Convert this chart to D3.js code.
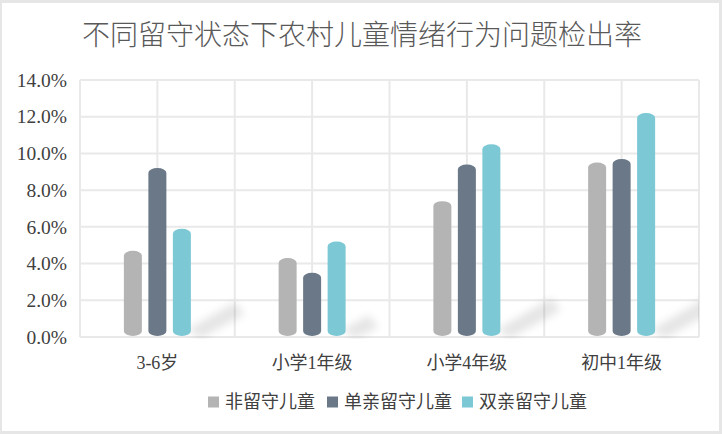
<!DOCTYPE html>
<html>
<head>
<meta charset="utf-8">
<script src="https://cdn.jsdelivr.net/npm/d3@7"></script>
<style>
  body { margin: 0; background: #e6e6e6; }
  svg { display: block; }
</style>
</head>
<body>
<script>
var w = 722;
var h = 434;

// data
var categories = ['3-6岁', '小学1年级', '小学4年级', '初中1年级'];
var seriesNames = ['非留守儿童', '单亲留守儿童', '双亲留守儿童'];
var nonLeft = [4.7, 4.3, 7.4, 9.5];
var singleLeft = [9.2, 3.5, 9.4, 9.7];
var bothLeft = [5.9, 5.2, 10.5, 12.2];
var yTicks = [0, 2, 4, 6, 8, 10, 12, 14];
var colors = ['#b3b4b3', '#6a7887', '#7cc8d5'];

var seriesValues = [nonLeft, singleLeft, bothLeft];
var margin = {top: 80, right: 23, bottom: 97, left: 80};
var innerW = w - margin.left - margin.right;
var innerH = h - margin.top - margin.bottom;

var svg = d3.select('body').append('svg').attr('width', w).attr('height', h);

// white card with thin grey frame
svg.append('rect')
  .attr('x', 2).attr('y', 3)
  .attr('width', w - 5).attr('height', h - 6)
  .attr('fill', '#ffffff');

var defs = svg.append('defs');
defs.append('filter').attr('id', 'blur')
  .attr('x', '-50%').attr('y', '-50%').attr('width', '200%').attr('height', '200%')
  .append('feGaussianBlur').attr('stdDeviation', 4.5);
defs.append('clipPath').attr('id', 'plotClip')
  .append('rect').attr('width', innerW).attr('height', innerH + 2);

svg.append('text')
  .text('不同留守状态下农村儿童情绪行为问题检出率')
  .attr('x', 362).attr('y', 45)
  .attr('text-anchor', 'middle')
  .attr('font-family', '"Noto Sans CJK SC", sans-serif')
  .attr('font-weight', 300)
  .attr('font-size', 28)
  .attr('fill', '#595959');

var g = svg.append('g').attr('transform', 'translate(' + margin.left + ',' + margin.top + ')');

var x0 = d3.scaleBand().domain(categories).range([0, innerW]);
var x1 = d3.scaleBand().domain(d3.range(seriesNames.length))
  .range([-33.5, 33.5]).paddingInner(0.265);
var y = d3.scaleLinear().domain([0, 14]).range([innerH, 0]);

// grid: horizontal at ticks, vertical at band edges and band centres
var grid = g.append('g').attr('stroke', '#e9e9e9').attr('stroke-width', 2);
grid.selectAll('line.h').data(yTicks).enter().append('line')
  .attr('class', 'h')
  .attr('x1', 0).attr('x2', innerW)
  .attr('y1', function(d) { return y(d); })
  .attr('y2', function(d) { return y(d); });
var vLines = [0];
categories.forEach(function(c) {
  vLines.push(x0(c) + x0.bandwidth() / 2);
  vLines.push(x0(c) + x0.bandwidth());
});
grid.selectAll('line.v').data(vLines).enter().append('line')
  .attr('class', 'v')
  .attr('x1', function(d) { return d; }).attr('x2', function(d) { return d; })
  .attr('y1', 0).attr('y2', innerH);

// soft diagonal shadows behind each group
var shadows = g.append('g').attr('clip-path', 'url(#plotClip)');
categories.forEach(function(c, i) {
  var maxV = d3.max(seriesValues, function(s) { return s[i]; });
  var cx = x0(c) + x0.bandwidth() / 2;
  var sx = cx + x1(2) + x1.bandwidth() - 4;
  var len = maxV * 5.2;
  var rise = len * 0.62;
  var b = innerH - 1;
  shadows.append('polygon')
    .attr('points', [
      [sx, b - 6], [sx + len, b - rise - 4], [sx + len + 10, b - rise + 8], [sx + 14, b + 2]
    ].map(function(p) { return p.join(','); }).join(' '))
    .attr('fill', '#000')
    .attr('opacity', 0.1)
    .attr('filter', 'url(#blur)');
});

// capsule bars
var groups = g.selectAll('g.cat').data(categories).enter().append('g')
  .attr('class', 'cat')
  .attr('transform', function(d) { return 'translate(' + (x0(d) + x0.bandwidth() / 2) + ',0)'; });

groups.selectAll('rect')
  .data(function(d, i) {
    return seriesValues.map(function(s, j) { return {s: j, v: s[i]}; });
  })
  .enter()
  .append('rect')
  .attr('x', function(d) { return x1(d.s); })
  .attr('width', x1.bandwidth())
  .attr('y', function(d) { return y(d.v); })
  .attr('height', function(d) { return innerH - y(d.v) - 1; })
  .attr('rx', x1.bandwidth() / 2)
  .attr('ry', 5)
  .attr('fill', function(d) { return colors[d.s]; });

// y axis labels
var yAxis = d3.axisLeft(y).tickValues(yTicks)
  .tickFormat(function(d) { return d.toFixed(1) + '%'; })
  .tickSize(0).tickPadding(13);
var ya = g.append('g').call(yAxis);
ya.select('.domain').remove();
ya.selectAll('text')
  .attr('font-family', '"Liberation Serif", serif')
  .attr('font-size', 19.5)
  .attr('fill', '#404040');

// x axis labels
var xAxis = d3.axisBottom(x0).tickSize(0).tickPadding(19);
var xa = g.append('g').attr('transform', 'translate(0,' + innerH + ')').call(xAxis);
xa.select('.domain').remove();
xa.selectAll('text')
  .attr('font-family', '"Liberation Serif", "Noto Sans CJK SC", serif')
  .attr('font-size', 18)
  .attr('fill', '#404040');

// legend
var legendX = [208, 327, 462];
var legend = svg.append('g').selectAll('g').data(seriesNames).enter().append('g')
  .attr('transform', function(d, i) { return 'translate(' + legendX[i] + ',402)'; });
legend.append('rect')
  .attr('x', 0).attr('y', -5.5).attr('width', 11).attr('height', 11)
  .attr('fill', function(d, i) { return colors[i]; });
legend.append('text')
  .text(function(d) { return d; })
  .attr('x', 17).attr('dy', '0.35em')
  .attr('font-family', '"Noto Sans CJK SC", sans-serif')
  .attr('font-size', 18)
  .attr('fill', '#404040');
</script>
</body>
</html>
